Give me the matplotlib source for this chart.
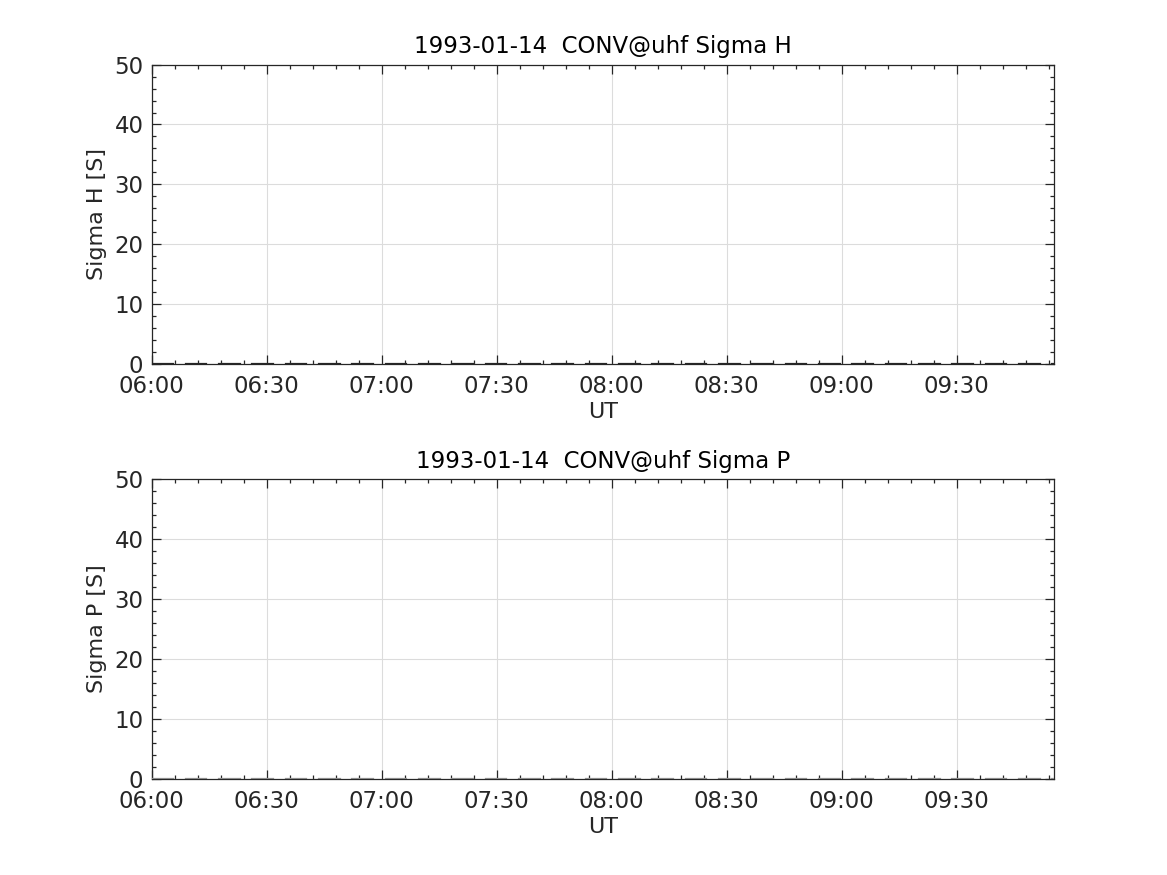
import matplotlib
matplotlib.use("Agg")
import matplotlib.pyplot as plt
import matplotlib.dates as mdates
import numpy as np
from datetime import datetime

day = "1993-01-14"

# integration intervals (start / end, UT)
seg_start = ["06:00:11", "06:08:53", "06:17:34", "06:26:16", "06:34:58", "06:43:40",
             "06:52:21", "07:01:03", "07:09:45", "07:18:26", "07:27:08", "07:35:50",
             "07:44:31", "07:53:13", "08:01:55", "08:10:37", "08:19:18", "08:28:00",
             "08:36:42", "08:45:23", "08:54:05", "09:02:47", "09:11:28", "09:20:10",
             "09:28:52", "09:37:34", "09:46:15", "09:54:57"]
seg_end = ["06:05:35", "06:14:17", "06:22:58", "06:31:40", "06:40:22", "06:49:04",
           "06:57:45", "07:06:27", "07:15:09", "07:23:50", "07:32:32", "07:41:14",
           "07:49:55", "07:58:37", "08:07:19", "08:16:01", "08:24:42", "08:33:24",
           "08:42:06", "08:50:47", "08:59:29", "09:08:11", "09:16:52", "09:25:34",
           "09:34:16", "09:42:58", "09:51:39", "10:00:21"]

sigma_h = [0.0] * 28
sigma_p = [0.0] * 28

t_min = "06:00:00"
t_max = "09:55:20"


def to_dt(s):
    return datetime.strptime(day + " " + s, "%Y-%m-%d %H:%M:%S")


def draw_panel(ax, vals, color, name):
    xs, ys = [], []
    for a, b, v in zip(seg_start, seg_end, vals):
        xs += [mdates.date2num(to_dt(a)), mdates.date2num(to_dt(b)), np.nan]
        ys += [v, v, np.nan]
    ax.plot(xs, ys, color=color, lw=1.6, zorder=3)

    ax.set_xlim(to_dt(t_min), to_dt(t_max))
    ax.set_ylim(0, 50)
    ax.xaxis.set_major_locator(mdates.MinuteLocator(byminute=[0, 30]))
    ax.xaxis.set_minor_locator(mdates.MinuteLocator(byminute=range(0, 60, 6)))
    ax.xaxis.set_major_formatter(mdates.DateFormatter("%H:%M"))
    ax.set_yticks(np.arange(0, 51, 10))
    ax.set_yticks(np.arange(0, 51, 2), minor=True)

    ax.grid(True, which="major", color="#dcdcdc", lw=0.8)
    ax.set_axisbelow(True)
    ax.tick_params(which="both", direction="in", top=True, right=True,
                   color="#262626", labelcolor="#262626", labelsize=16.5, width=0.9)
    ax.tick_params(which="major", length=6.5)
    ax.tick_params(which="minor", length=3.2)
    ax.tick_params(axis="x", which="major", pad=8)
    ax.tick_params(axis="y", which="major", pad=6)
    for sp in ax.spines.values():
        sp.set_color("#262626")
        sp.set_linewidth(0.9)

    ax.set_title(f"{day}  CONV@uhf {name}", fontsize=16.5, color="black", pad=8)
    ax.set_xlabel("UT", fontsize=16, color="#262626", labelpad=3)
    ax.set_ylabel(f"{name} [S]", fontsize=16, color="#262626", labelpad=5)


fig = plt.figure(figsize=(11.67, 8.75), dpi=100)
ax1 = fig.add_axes([0.13, 0.5838, 0.773, 0.3424])
ax2 = fig.add_axes([0.13, 0.11, 0.773, 0.3424])

draw_panel(ax1, sigma_h, "#262626", "Sigma H")
draw_panel(ax2, sigma_p, "#8c8c8c", "Sigma P")

fig.savefig("out.png", dpi=100)
